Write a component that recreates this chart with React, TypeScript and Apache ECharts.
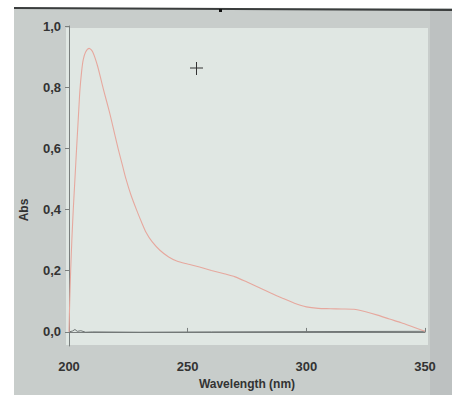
import React, { useEffect, useRef } from "react";
import * as echarts from "echarts";

const wavelengths = [200, 200.3, 200.7, 201.2, 201.8, 202.5, 203.2, 204, 204.6, 205.3, 206, 207, 208.5, 210, 212, 214.5, 217, 219, 220.8, 222.5, 224, 226, 228.5, 230.5, 232.5, 235, 238.3, 242, 245.4, 250, 255, 260, 265, 270, 275, 280, 285, 290, 295, 300, 305, 310, 315, 320, 325, 330, 335, 340, 345, 350];
const absorbance = [0.0, 0.1, 0.2, 0.3, 0.4, 0.5, 0.6, 0.71, 0.79, 0.85, 0.89, 0.915, 0.927, 0.915, 0.87, 0.793, 0.72, 0.655, 0.596, 0.545, 0.5, 0.45, 0.398, 0.36, 0.325, 0.295, 0.267, 0.245, 0.232, 0.222, 0.212, 0.201, 0.191, 0.18, 0.163, 0.145, 0.127, 0.11, 0.094, 0.082, 0.077, 0.076, 0.075, 0.074, 0.066, 0.055, 0.042, 0.03, 0.016, 0.002];

const baselineWavelengths = [200, 201.5, 202.5, 203.5, 205, 207, 210, 230, 260, 300, 350];
const baselineValues = [0, 0.003, 0.008, 0.002, 0.004, -0.001, 0, -0.001, 0, 0.001, 0.002];

const yTickValues = [0, 0.2, 0.4, 0.6, 0.8, 1.0];

export default function App() {
  const ref = useRef<HTMLDivElement>(null);
  useEffect(() => {
    if (!ref.current) return;
    const chart = echarts.init(ref.current, null, { renderer: "svg" });
    const font = "'Liberation Sans', Arial, sans-serif";
    chart.setOption({
      animation: false,
      backgroundColor: "#ffffff",
      graphic: [
        { type: "rect", z: -10, shape: { x: 14, y: 8, width: 438, height: 387 }, style: { fill: "#c8cdcb" } },
        { type: "rect", z: -10, shape: { x: 430, y: 8, width: 22, height: 387 }, style: { fill: "#bdc1c1" } },
        { type: "rect", z: -9, shape: { x: 66, y: 28, width: 362, height: 317 }, style: { fill: "#e0e7e3" } },
        { type: "line", z: 5, shape: { x1: 14, y1: 8, x2: 452, y2: 10 }, style: { stroke: "#3a3d3d", lineWidth: 2 } },
        { type: "rect", z: 5, shape: { x: 219, y: 9, width: 3, height: 3 }, style: { fill: "#111" } },
        { type: "line", z: 5, shape: { x1: 190, y1: 68, x2: 203, y2: 68 }, style: { stroke: "#333", lineWidth: 1 } },
        { type: "line", z: 5, shape: { x1: 196.5, y1: 62, x2: 196.5, y2: 75 }, style: { stroke: "#333", lineWidth: 1 } },
        {
          type: "text",
          z: 5,
          x: 24,
          y: 210,
          rotation: Math.PI / 2,
          style: { text: "Abs", font: "bold 12px 'Liberation Sans', Arial, sans-serif", fill: "#333", align: "center", verticalAlign: "middle" },
        },
      ],
      grid: { left: 69, right: 27, top: 26, bottom: 49, show: false },
      xAxis: {
        type: "value",
        min: 200,
        max: 350,
        interval: 50,
        name: "Wavelength (nm)",
        nameLocation: "middle",
        nameGap: 30,
        nameTextStyle: { fontFamily: font, fontWeight: "bold", fontSize: 12, color: "#333" },
        axisLine: { lineStyle: { color: "#7a7f7e", width: 1 } },
        axisTick: { inside: true, length: 4, lineStyle: { color: "#7a7f7e" } },
        axisLabel: { fontFamily: font, fontWeight: "bold", fontSize: 13, color: "#333", margin: 14 },
        splitLine: { show: false },
      },
      yAxis: {
        type: "value",
        min: -0.046,
        max: 1.0,
        axisLine: { show: true, lineStyle: { color: "#7a7f7e", width: 1 } },
        axisTick: { show: true, length: 4, customValues: yTickValues, lineStyle: { color: "#7a7f7e" } },
        axisLabel: {
          fontFamily: font,
          fontWeight: "bold",
          fontSize: 13,
          color: "#333",
          margin: 8,
          customValues: yTickValues,
          formatter: (v: number) => v.toFixed(1).replace(".", ","),
        },
        splitLine: { show: false },
      },
      series: [
        {
          type: "line",
          data: baselineWavelengths.map((w, i) => [w, baselineValues[i]]),
          showSymbol: false,
          lineStyle: { color: "#6e7473", width: 1 },
          z: 2,
        },
        {
          type: "line",
          smooth: 0.25,
          data: wavelengths.map((w, i) => [w, absorbance[i]]),
          showSymbol: false,
          lineStyle: { color: "#e6a89e", width: 1.1 },
          z: 3,
        },
      ],
    });
    return () => chart.dispose();
  }, []);
  return <div ref={ref} style={{ position: "absolute", left: 0, top: 0, width: 452, height: 395 }} />;
}
